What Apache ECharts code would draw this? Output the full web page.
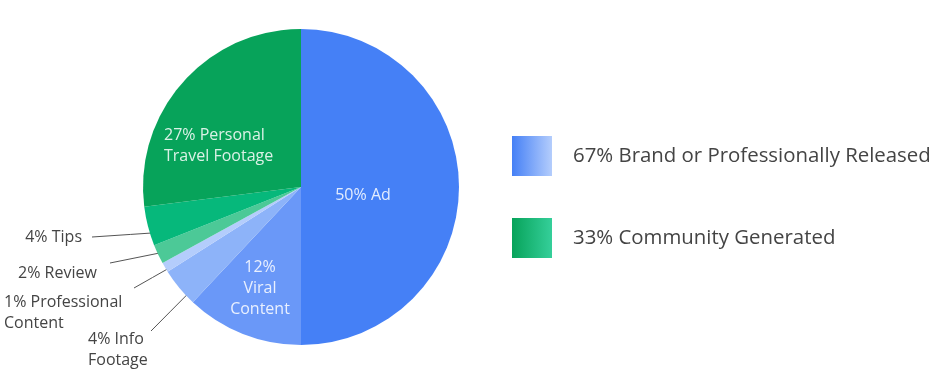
<!DOCTYPE html>
<html>
<head>
<meta charset="utf-8">
<script src="https://cdn.jsdelivr.net/npm/echarts@6/dist/echarts.min.js"></script>
<style>
html,body{margin:0;padding:0;background:#fff;}
#chart{width:938px;height:383px;}
</style>
</head>
<body>
<div id="chart"></div>
<script>
// ---- data ----
const categories = ['Ad', 'Viral Content', 'Info Footage', 'Professional Content', 'Review', 'Tips', 'Personal Travel Footage'];
const values = [50, 12, 4, 1, 2, 4, 27];
const sliceLabels = ['Ad', 'Viral\nContent', 'Info\nFootage', 'Professional\nContent', 'Review', 'Tips', 'Personal\nTravel Footage'];
const labelBreakAfterPct = [false, true, false, false, false, false, false];
const groupNames = ['Brand or Professionally Released', 'Community Generated'];
const groupOf = [0, 0, 0, 0, 1, 1, 1];

// ---- style / layout ----
const sliceColors = ['#4580f6', '#6a98f8', '#8db3f9', '#b4cdfc', '#4cc997', '#06b87b', '#07a35a'];
const groupGradients = [['#4580f6', '#b4cdfc'], ['#07a35a', '#35cf9a']];
const CX = 301, CY = 187, R = 158;
// label anchor layout: inside = true for labels on the slice
const labelLayoutCfg = [
  {inside: true, x: 363, y: 195, align: 'center'},
  {inside: true, x: 260, y: 288, align: 'center'},
  {inside: false, x: 88, y: 349.5, align: 'left', lx: 151, ly: 331, at: 0.24, rf: 0.975},
  {inside: false, x: 4, y: 312.5, align: 'left', lx: 134, ly: 288, at: 0.22, rf: 0.965},
  {inside: false, x: 18, y: 273, align: 'left', lx: 110, ly: 263, at: 0.47, rf: 0.96},
  {inside: false, x: 82, y: 237, align: 'right', lx: 92, ly: 237, at: 0.2, rf: 0.885},
  {inside: true, x: 164, y: 146, align: 'left'}
];

const total = values.reduce((a, b) => a + b, 0);
const startAngles = [];
let acc = 0;
values.forEach(v => { startAngles.push(acc / total * 360); acc += v; });

function slicePoint(i, at, rf) {
  const deg = startAngles[i] + values[i] / total * 360 * at;
  const rad = deg * Math.PI / 180;
  return [CX + Math.sin(rad) * R * rf, CY - Math.cos(rad) * R * rf];
}

const groupTotals = groupNames.map((g, gi) =>
  values.reduce((s, v, i) => s + (groupOf[i] === gi ? v : 0), 0));
const legendNames = groupNames.map((g, gi) => groupTotals[gi] + '% ' + g);

const pieData = categories.map((c, i) => {
  const cfg = labelLayoutCfg[i];
  return {
    name: c,
    value: values[i],
    itemStyle: {color: sliceColors[i]},
    label: {
      position: cfg.inside ? 'inside' : 'outside',
      color: cfg.inside ? 'rgba(255,255,255,0.85)' : '#444',
      formatter: values[i] + '%' + (labelBreakAfterPct[i] ? '\n' : ' ') + sliceLabels[i]
    },
    labelLine: {show: !cfg.inside}
  };
});

const chart = echarts.init(document.getElementById('chart'), null, {renderer: 'canvas'});
chart.setOption({
  animation: false,
  backgroundColor: '#fff',
  legend: {
    orient: 'vertical',
    left: 512,
    top: 136,
    padding: 0,
    itemWidth: 40,
    itemHeight: 40,
    itemGap: 42,
    icon: 'rect',
    selectedMode: false,
    data: legendNames,
    textStyle: {
      fontFamily: 'Open Sans',
      fontSize: 20.4,
      color: '#444',
      padding: [2, 0, 0, 16]
    }
  },
  series: [
    {
      type: 'pie',
      center: [CX, CY],
      radius: [0, R],
      startAngle: 90,
      clockwise: true,
      silent: true,
      avoidLabelOverlap: false,
      itemStyle: {borderWidth: 0},
      label: {
        show: true,
        fontFamily: 'Open Sans',
        fontSize: 16,
        lineHeight: 21
      },
      labelLine: {
        show: true,
        length: 5,
        length2: 5,
        lineStyle: {color: '#555', width: 1}
      },
      labelLayout: function (params) {
        const i = params.dataIndex;
        const cfg = labelLayoutCfg[i];
        const out = {x: cfg.x, y: cfg.y, align: cfg.align, verticalAlign: 'middle'};
        if (!cfg.inside) {
          const p = slicePoint(i, cfg.at, cfg.rf);
          out.labelLinePoints = [[cfg.lx, cfg.ly], [(cfg.lx + p[0]) / 2, (cfg.ly + p[1]) / 2], p];
        }
        return out;
      },
      data: pieData
    },
    {
      type: 'pie',
      center: [CX, CY],
      radius: [0, 0],
      silent: true,
      label: {show: false},
      labelLine: {show: false},
      data: legendNames.map((n, gi) => ({
        name: n,
        value: groupTotals[gi],
        itemStyle: {
          color: new echarts.graphic.LinearGradient(0, 0, 1, 0, [
            {offset: 0, color: groupGradients[gi][0]},
            {offset: 1, color: groupGradients[gi][1]}
          ])
        }
      }))
    }
  ]
});
</script>
</body>
</html>
